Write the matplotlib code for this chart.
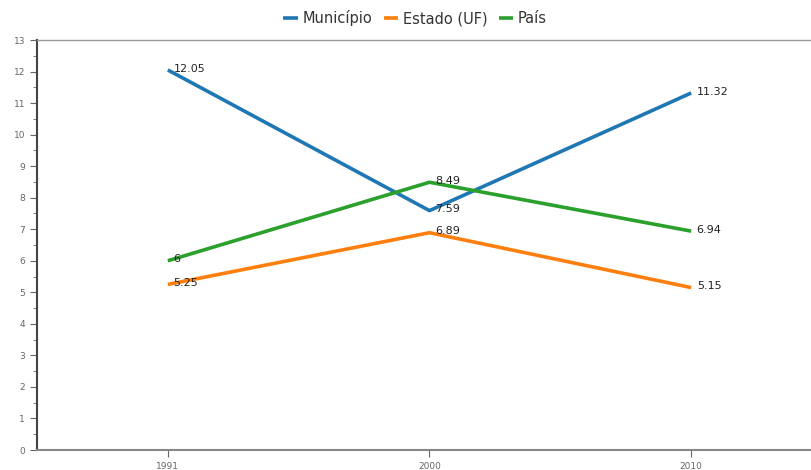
import matplotlib.pyplot as plt
from matplotlib.ticker import MultipleLocator

# Data
years = ['1991', '2000', '2010']
municipio = [12.05, 7.59, 11.32]
estado = [5.25, 6.89, 5.15]
pais = [6, 8.49, 6.94]

series = [
    ('Município', municipio, '#1f77b4'),
    ('Estado (UF)', estado, '#ff7f0e'),
    ('País', pais, '#2ca02c'),
]

W, H = 812, 470
fig = plt.figure(figsize=(W / 100, H / 100), dpi=100)
# axes: left 37px, top 40px, bottom 450px, extends past right edge
ax = fig.add_axes([37 / W, (H - 450) / H, 785 / W, 410 / H])

x = list(range(len(years)))
for name, vals, color in series:
    ax.plot(x, vals, color=color, lw=2.6, label=name, solid_capstyle='butt')
    for xi, v in zip(x, vals):
        ax.annotate('%g' % v, (xi, v), xytext=(4, 1), textcoords='offset points',
                    fontsize=8, color='#222222', va='center', ha='left')

ax.set_xlim(-0.5, 2.5)
ax.set_ylim(0, 13)
ax.set_xticks(x)
ax.set_xticklabels(years)
ax.yaxis.set_major_locator(MultipleLocator(1))
ax.yaxis.set_minor_locator(MultipleLocator(0.5))

for s in ['right']:
    ax.spines[s].set_visible(False)
ax.spines['top'].set_color('#999999')
ax.spines['top'].set_linewidth(1)
ax.spines['left'].set_color('#444444')
ax.spines['bottom'].set_color('#888888')
ax.spines['left'].set_linewidth(1.5)
ax.spines['bottom'].set_linewidth(1.5)

ax.tick_params(axis='both', which='major', labelsize=6.5, labelcolor='#666666',
               color='#666666', length=5)
ax.tick_params(axis='y', which='minor', color='#666666', length=3)

ax.legend(loc='center', bbox_to_anchor=(415 / 785 - 37 / 785 + 0.0, (470 - 18 - 20) / 410),
          ncol=3, frameon=False, fontsize=10.5, handlelength=1.0,
          handletextpad=0.3, columnspacing=0.8, borderaxespad=0,
          labelcolor='#333333')

fig.savefig('out.png', dpi=100)
